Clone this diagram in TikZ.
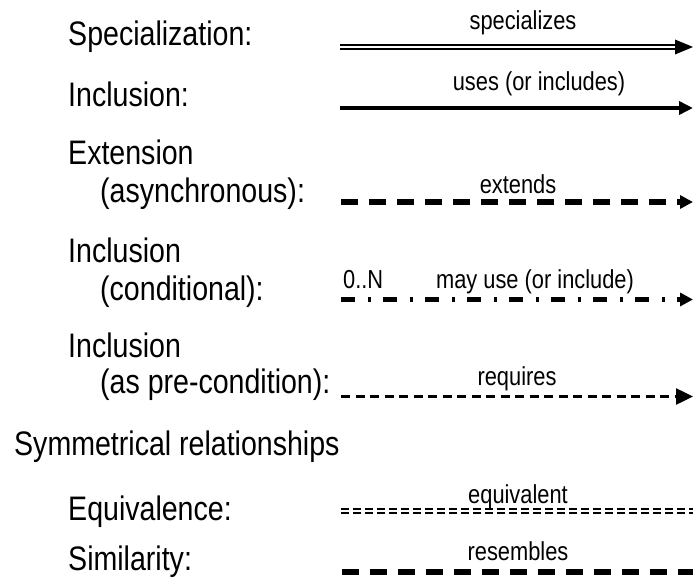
\documentclass[tikz,border=0pt]{standalone}
\usepackage{fontspec}
\setmainfont{Liberation Sans}[FakeStretch=0.84]
\usetikzlibrary{arrows.meta}
\tikzset{
  kind/.style={anchor=base west,inner sep=0pt,font=\fontsize{34}{40}\selectfont},
  rel/.style={anchor=base,inner sep=0pt,font=\fontsize{26}{30}\selectfont},
}
\begin{document}
\begin{tikzpicture}[x=1pt,y=-1pt]
      \useasboundingbox (0,0) rectangle (693,578);

      % Especializacion
      \node[kind] (spec) at (68,46) {Specialization:};
      \coordinate (specA) at (340,47);
      \coordinate (specB) at (677,47);
      \coordinate (specT) at (693,47);
      \draw[line width=2pt,double,double distance=2pt] (specA) -- (specB);
      \fill (specT) -- ++(-18,-7.5) -- ++(0,15) -- cycle;
      \node[rel] (specL) at (523,30) {specializes};

      % Inclusion
      \node[kind] (incl) at (68,106) {Inclusion:};
      \coordinate (inclA) at (340,108);
      \coordinate (inclB) at (693,108);
      \draw[line width=4.7pt,-{Triangle[length=14pt,width=13pt]}] (inclA) -- (inclB);
      \node[rel] (inclL) at (539,90) {uses (or includes)};

      % Extension
      \node[kind] (ext) at (68,164) {Extension};
      \node[kind] (extB) at (100,202) {(asynchronous):};
      \coordinate (extA) at (341,202);
      \coordinate (extE) at (693,202);
      \draw[line width=6pt,dash pattern=on 17pt off 11pt,-{Triangle[length=13pt,width=13pt]}] (extA) -- (extE);
      \node[rel] (extL) at (518,193) {extends};

      % Inclusion condicional
      \node[kind] (cond) at (68,262) {Inclusion};
      \node[kind] (condB) at (100,300) {(conditional):};
      \coordinate (condA) at (341,299.5);
      \coordinate (condE) at (693,299.5);
      \draw[line width=5pt,dash pattern=on 14pt off 13pt on 3pt off 12pt,-{Triangle[length=13pt,width=13pt]}] (condA) -- (condE);
      \node[rel,anchor=base west] (condN) at (343,288) {0..N};
      \node[rel] (condL) at (535,288) {may use (or include)};

      % Precondicion
      \node[kind] (pre) at (68,357) {Inclusion};
      \node[kind] (preB) at (100,393) {(as pre-condition):};
      \coordinate (preA) at (341,396.5);
      \coordinate (preE) at (693,396.5);
      \draw[line width=2.5pt,dash pattern=on 9pt off 5.5pt,-{Triangle[length=17pt,width=16pt]}] (preA) -- (preE);
      \node[rel] (preL) at (517,385) {requires};

      % Simetricas
      \node[kind] (sym) at (14,455) {Symmetrical relationships};

      % Equivalencia
      \node[kind] (equ) at (68,520) {Equivalence:};
      \coordinate (equA) at (341,511);
      \coordinate (equE) at (693,511);
      \draw[line width=1.6pt,double,double distance=2pt,dash pattern=on 8pt off 4pt] (equA) -- (equE);
      \node[rel] (equL) at (518,503) {equivalent};

      % Similitud
      \node[kind] (sim) at (68,570) {Similarity:};
      \coordinate (simA) at (342,572);
      \coordinate (simE) at (693,572);
      \draw[line width=6pt,dash pattern=on 17pt off 11pt] (simA) -- (simE);
      \node[rel] (simL) at (518,560) {resembles};
\end{tikzpicture}
\end{document}
